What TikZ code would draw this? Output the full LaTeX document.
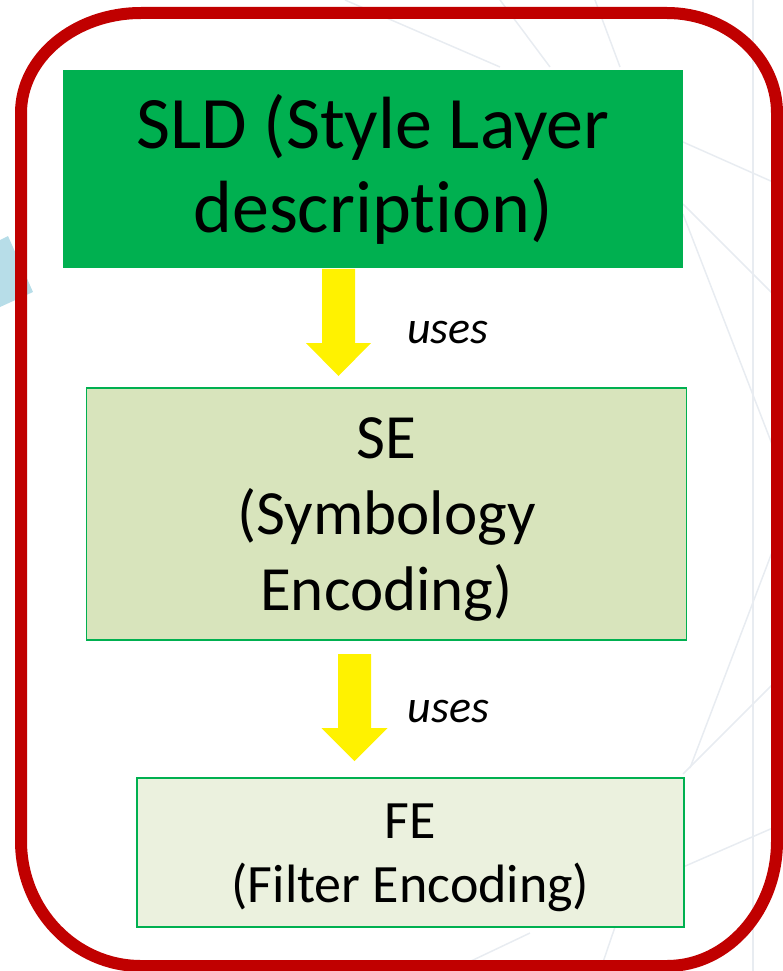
\documentclass[tikz,border=0pt]{standalone}
\usepackage{fontspec}
\setmainfont[Ligatures={TeX,NoCommon}]{Carlito}
\definecolor{redb}{HTML}{C00000}
\definecolor{sldgreen}{HTML}{00B050}
\definecolor{sefill}{HTML}{D8E4BC}
\definecolor{fefill}{HTML}{EBF1DE}
\definecolor{bgline}{HTML}{E8ECF1}
\definecolor{bgblue}{HTML}{B7DDE8}
\begin{document}
\begin{tikzpicture}[x=1pt,y=-1pt,
  box/.style={draw=sldgreen,line width=1.5pt,inner sep=0pt,align=center,text=black},
  arrowfill/.style={fill=yellow},
  uselbl/.style={font=\fontsize{46}{52}\selectfont\itshape,text=black},
  bgl/.style={draw=bgline,line width=1.5pt}]
\useasboundingbox (0,0) rectangle (782,971);
% faint background decoration
\fill[bgblue] (0,240) -- (8,236) -- (33,292) -- (0,307) -- cycle;
\draw[bgl] (345,0) -- (500,67);
\draw[bgl] (500,0) -- (550,67);
\draw[bgl] (595,0) -- (620,67);
\draw[bgl] (683,142) -- (782,186);
\draw[bgl] (683,204) -- (782,303);
\draw[bgl] (683,214) -- (782,470);
\draw[bgl] (782,526) -- (690,768);
\draw[bgl] (782,675) -- (683,774);
\draw[bgl] (782,824) -- (683,867);
\draw[bgl] (615,927) -- (600,971);
\draw[bgl] (450,971) -- (530,933);
\draw[bgl] (753,0) -- (753,971);
% red frame
\draw[redb, line width=12pt, line join=round]
  (21,113) .. controls (21,57.8) and (74.7,13) .. (141,13)
  -- (667,13) .. controls (727.8,13) and (777,57.8) .. (777,113)
  -- (777,841) .. controls (777,910) and (727.8,966) .. (667,966)
  -- (141,966) .. controls (74.7,966) and (21,910) .. (21,841) -- cycle;
% boxes
\node[box, draw=none, fill=sldgreen, minimum width=620pt, minimum height=198pt,
      font=\fontsize{74}{84}\selectfont] (sld) at (373,169)
      {\rule{0pt}{65pt}SLD (Style Layer\\description)\rule[-23pt]{0pt}{23pt}};
\node[box, fill=sefill, minimum width=600pt, minimum height=252pt,
      font=\fontsize{63}{76}\selectfont] (se) at (386.5,514)
      {\rule{0pt}{60pt}SE\\(Symbology\\Encoding)\rule[-20pt]{0pt}{20pt}};
\node[box, fill=fefill, minimum width=547pt, minimum height=149pt,
      font=\fontsize{54}{64}\selectfont] (fe) at (410.5,852.5)
      {\rule{0pt}{50pt}FE\\(Filter Encoding)\rule[-15pt]{0pt}{15pt}};
% arrows
\coordinate (t1) at (338.5,376);
\coordinate (a1s) at (sld.south -| t1);
\fill[arrowfill] ([xshift=-16.5pt]a1s) -- ([xshift=16.5pt]a1s)
  -- ([xshift=16.5pt,yshift=33pt]t1) -- ([xshift=32.5pt,yshift=33pt]t1)
  -- (t1) -- ([xshift=-32.5pt,yshift=33pt]t1) -- ([xshift=-16.5pt,yshift=33pt]t1) -- cycle;
\coordinate (t2) at (354.5,761);
\coordinate (a2s) at (354.5,654);
\fill[arrowfill] ([xshift=-16.5pt]a2s) -- ([xshift=16.5pt]a2s)
  -- ([xshift=16.5pt,yshift=33pt]t2) -- ([xshift=33pt,yshift=33pt]t2)
  -- (t2) -- ([xshift=-33pt,yshift=33pt]t2) -- ([xshift=-16.5pt,yshift=33pt]t2) -- cycle;
% labels
\node[uselbl] (u1) at (448,333) {uses};
\node[uselbl] (u2) at (448.5,712) {uses};
\end{tikzpicture}
\end{document}
